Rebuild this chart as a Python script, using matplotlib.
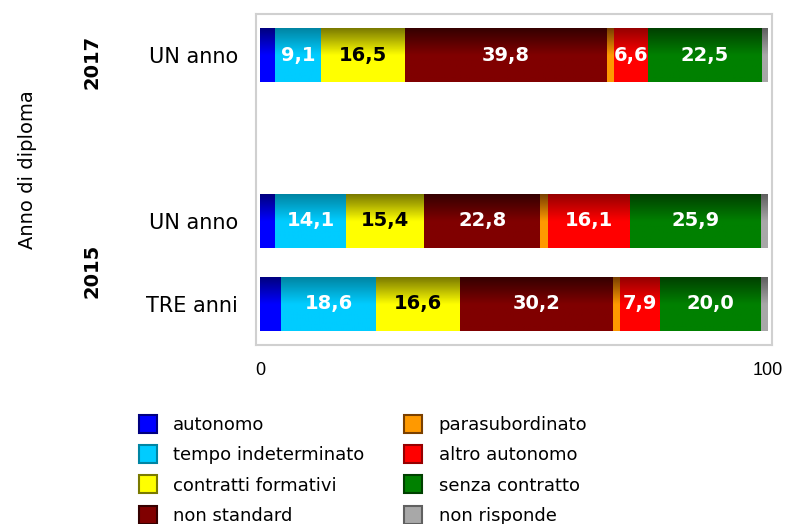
import matplotlib.pyplot as plt
import matplotlib.transforms as mtransforms
from matplotlib.colors import LinearSegmentedColormap
from matplotlib.lines import Line2D
import numpy as np

# rows: top to bottom
row_labels = ['UN anno', 'UN anno', 'TRE anni']
row_pos = [3, 1, 0]
groups = ['2017', '2015']
group_pos = [2.92, 0.4]

categories = ['autonomo', 'tempo indeterminato', 'contratti formativi', 'non standard',
              'parasubordinato', 'altro autonomo', 'senza contratto', 'non risponde']
values = {
    'autonomo':            [2.9, 2.9, 4.2],
    'tempo indeterminato': [9.1, 14.1, 18.6],
    'contratti formativi': [16.5, 15.4, 16.6],
    'non standard':        [39.8, 22.8, 30.2],
    'parasubordinato':     [1.5, 1.6, 1.3],
    'altro autonomo':      [6.6, 16.1, 7.9],
    'senza contratto':     [22.5, 25.9, 20.0],
    'non risponde':        [1.1, 1.2, 1.2],
}
# (dark top, bright bottom)
colors = {
    'autonomo':            ('#000080', '#0000ff'),
    'tempo indeterminato': ('#0085a3', '#00ccff'),
    'contratti formativi': ('#7a7a00', '#ffff00'),
    'non standard':        ('#350000', '#800000'),
    'parasubordinato':     ('#7a4000', '#ff9900'),
    'altro autonomo':      ('#960000', '#ff0000'),
    'senza contratto':     ('#004000', '#008000'),
    'non risponde':        ('#606060', '#a8a8a8'),
}
dark_text = ['contratti formativi']

fig = plt.figure(figsize=(7.91, 5.24), dpi=100)
ax = fig.add_axes([256 / 791, 1 - 345 / 524, 516 / 791, 331 / 524])

grad = np.linspace(0, 1, 64).reshape(-1, 1)
left = np.zeros(len(row_pos))
for cat in categories:
    v = np.array(values[cat])
    dark, bright = colors[cat]
    bars = ax.barh(row_pos, v, left=left, height=0.65, color=bright, linewidth=0, zorder=2)
    cmap = LinearSegmentedColormap.from_list(cat, [bright, bright, dark])
    for b in bars:
        x0, y0, w, h = b.get_x(), b.get_y(), b.get_width(), b.get_height()
        im = ax.imshow(grad, extent=(x0, x0 + w, y0, y0 + h), origin='lower',
                       cmap=cmap, aspect='auto', zorder=3, interpolation='bilinear')
        im.set_clip_path(b)
    for i, val in enumerate(v):
        if val >= 5:
            ax.text(left[i] + val / 2, row_pos[i], f'{val:.1f}'.replace('.', ','),
                    ha='center', va='center', fontsize=14, fontweight='bold',
                    color='black' if cat in dark_text else 'white', zorder=4)
    left += v

ax.set_xlim(-0.8, 100.9)
ax.set_ylim(-0.5, 3.5)
ax.set_xticks([0, 100])
ax.set_xticklabels(['0', '100'], fontsize=13, family='Liberation Sans')
ax.set_yticks(row_pos)
ax.set_yticklabels(row_labels, fontsize=15)
ax.tick_params(axis='both', length=0)
ax.tick_params(axis='x', pad=12)
ax.tick_params(axis='y', pad=13)
for s in ax.spines.values():
    s.set_color('#d0d0d0')
    s.set_linewidth(1.5)

trans = mtransforms.blended_transform_factory(fig.transFigure, ax.transData)
for g, p in zip(groups, group_pos):
    ax.text(92 / 791, p, g, transform=trans, rotation=90, ha='center', va='center',
            fontsize=14, fontweight='bold')
fig.text(28 / 791, 1 - 170 / 524, 'Anno di diploma', rotation=90, ha='center',
         va='center', fontsize=14)

handles = [Line2D([], [], linestyle='none', marker='s', markersize=13,
                  markerfacecolor=colors[c][1], markeredgecolor=colors[c][0],
                  markeredgewidth=1.5) for c in categories]
fig.legend(handles, categories, ncol=2, loc='upper left', bbox_to_anchor=(139 / 791, 1 - 416 / 524),
           frameon=False, fontsize=13, handlelength=1.0, handletextpad=0.9,
           columnspacing=2.2, labelspacing=0.68, borderpad=0, borderaxespad=0)

plt.savefig('out.png', dpi=100)
